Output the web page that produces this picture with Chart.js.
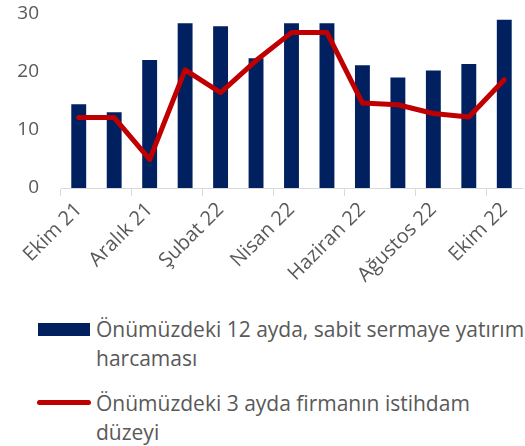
<!DOCTYPE html>
<html lang="tr">
<head>
    <meta charset="UTF-8">
    <title>Yatırım ve istihdam beklentileri</title>
    <script src="https://cdn.jsdelivr.net/npm/chart.js"></script>
    <style>
        body { margin: 0; background: #fff; font-family: "Open Sans", sans-serif; }
        #wrap { position: relative; width: 525px; height: 446px; overflow: hidden; }
        #chartBox { position: absolute; left: 0; top: -20px; width: 525px; height: 320px; }
        .leg { position: absolute; left: 0; width: 545px; color: #595959; font-size: 21px; line-height: 29px; }
        .leg .txt { position: absolute; left: 96px; top: 0; width: 440px; white-space: normal; }
        .leg .sw { position: absolute; }
    </style>
</head>
<body>
    <div id="wrap">
        <div id="chartBox"><canvas id="chart"></canvas></div>
        <div class="leg" id="leg0" style="top:315px"></div>
        <div class="leg" id="leg1" style="top:389px"></div>
    </div>

    <script>
        // aylar
        const months = ['Ekim 21', 'Kasım 21', 'Aralık 21', 'Ocak 22', 'Şubat 22', 'Mart 22', 'Nisan 22',
                        'Mayıs 22', 'Haziran 22', 'Temmuz 22', 'Ağustos 22', 'Eylül 22', 'Ekim 22'];
        // Önümüzdeki 12 ayda, sabit sermaye yatırım harcaması
        const investment = [14.4, 13.0, 22.0, 28.3, 27.8, 22.3, 28.3, 28.3, 21.1, 19.0, 20.2, 21.3, 28.9];
        // Önümüzdeki 3 ayda firmanın istihdam düzeyi
        const employment = [12.1, 12.1, 4.9, 20.3, 16.4, 21.9, 26.7, 26.7, 14.6, 14.3, 12.8, 12.2, 18.6];
        const yTicks = [0, 10, 20, 30];

        const navy = '#002060';
        const red = '#c00000';
        const gray = '#595959';

        const chart = new Chart(document.getElementById('chart'), {
            data: {
                labels: months,
                datasets: [{
                    type: 'line',
                    label: 'Önümüzdeki 3 ayda firmanın istihdam düzeyi',
                    data: employment,
                    borderColor: red,
                    backgroundColor: red,
                    borderWidth: 5,
                    pointRadius: 0,
                    tension: 0,
                    borderCapStyle: 'round',
                    borderJoinStyle: 'round',
                    order: 0
                }, {
                    type: 'bar',
                    label: 'Önümüzdeki 12 ayda, sabit sermaye yatırım harcaması',
                    data: investment,
                    backgroundColor: navy,
                    categoryPercentage: 1,
                    barPercentage: 0.42,
                    order: 1
                }]
            },
            options: {
                responsive: true,
                maintainAspectRatio: false,
                animation: false,
                layout: { padding: { top: 0, right: 3, left: 0, bottom: 0 } },
                plugins: { legend: { display: false }, tooltip: { enabled: false } },
                scales: {
                    x: {
                        offset: true,
                        border: { display: true, color: '#d9d9d9', width: 1 },
                        grid: {
                            offset: true,
                            drawOnChartArea: false,
                            drawTicks: true,
                            tickLength: 8,
                            color: (c) => (c.index % 2 === 0 ? '#d9d9d9' : 'rgba(0,0,0,0)')
                        },
                        ticks: {
                            autoSkip: false,
                            maxRotation: 45,
                            minRotation: 45,
                            padding: 2,
                            color: gray,
                            font: { family: 'Open Sans', size: 20 },
                            callback: function (v, i) { return i % 2 === 0 ? this.getLabelForValue(v) : ''; }
                        },
                        afterFit: (s) => { s.height = 112; }
                    },
                    y: {
                        min: 0,
                        max: 30,
                        border: { display: false },
                        grid: { display: false, drawTicks: false },
                        afterBuildTicks: (s) => { s.ticks = yTicks.map(v => ({ value: v })); },
                        ticks: {
                            padding: 22,
                            color: gray,
                            font: { family: 'Open Sans', size: 19 }
                        },
                        afterFit: (s) => { s.width = 61; }
                    }
                }
            }
        });

        // HTML lejant (satır kaydırma için)
        function buildLegend() {
            const ds = chart.data.datasets;
            const bar = ds[1], line = ds[0];
            const l0 = document.getElementById('leg0');
            l0.innerHTML = '<div class="sw" style="left:38px;top:8px;width:52px;height:13px;background:' +
                bar.backgroundColor + '"></div><div class="txt">' + bar.label + '</div>';
            const l1 = document.getElementById('leg1');
            l1.innerHTML = '<div class="sw" style="left:37px;top:11px;width:54px;height:5px;border-radius:3px;background:' +
                line.borderColor + '"></div><div class="txt" style="width:400px">' + line.label + '</div>';
        }
        buildLegend();
    </script>
</body>
</html>
